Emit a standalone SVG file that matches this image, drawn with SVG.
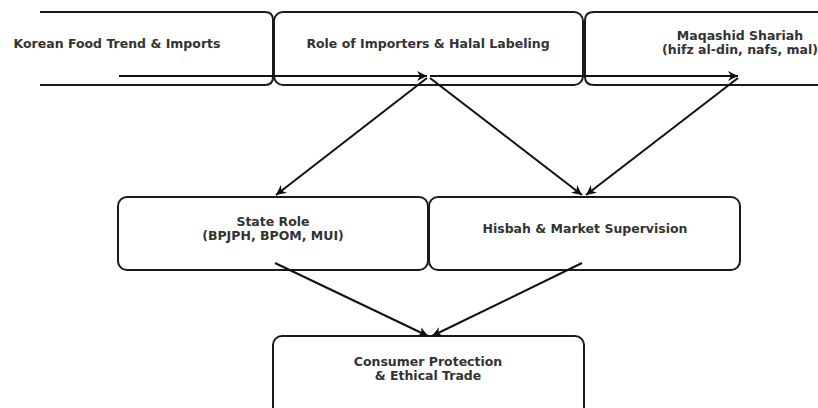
<svg xmlns="http://www.w3.org/2000/svg" width="818" height="408" viewBox="0 0 818 408">
<defs>
<marker id="ah" viewBox="0 0 10 10" refX="10" refY="5" markerWidth="10" markerHeight="10" markerUnits="userSpaceOnUse" orient="auto">
<path d="M0,0 L10,5 L0,10 L3,5 Z" fill="#111"/>
</marker>
<style>
.box{fill:#fff;stroke:#1a1a1a;stroke-width:2}
.t{font-family:"DejaVu Sans",sans-serif;font-weight:bold;font-size:12.5px;fill:#333;text-anchor:middle}
.c{stroke:#111;stroke-width:2;fill:none;marker-end:url(#ah)}
</style>
</defs>
<rect width="818" height="408" fill="#fff"/>
<g id="n1">
<path class="box" d="M40,12 H265 Q273,12 273,20 V77 Q273,85 265,85 H40"/>
<text class="t" x="117" y="48">Korean Food Trend &amp; Imports</text>
</g>
<g id="n2">
<rect class="box" x="274" y="12" width="309" height="73" rx="9"/>
<text class="t" x="428" y="48">Role of Importers &amp; Halal Labeling</text>
</g>
<g id="n3">
<path class="box" d="M818,12 H594 Q585,12 585,20 V77 Q585,85 594,85 H818"/>
<text class="t" x="740" y="40">Maqashid Shariah</text>
<text class="t" x="740" y="54">(hifz al-din, nafs, mal)</text>
</g>
<g id="n4">
<rect class="box" x="118" y="197" width="310" height="73" rx="9"/>
<text class="t" x="273" y="226">State Role</text>
<text class="t" x="273" y="240">(BPJPH, BPOM, MUI)</text>
</g>
<g id="n5">
<rect class="box" x="429" y="197" width="311" height="73" rx="9"/>
<text class="t" x="585" y="233">Hisbah &amp; Market Supervision</text>
</g>
<g id="n6">
<rect class="box" x="273" y="336" width="311" height="80" rx="9"/>
<text class="t" x="428" y="366">Consumer Protection</text>
<text class="t" x="428" y="380">&amp; Ethical Trade</text>
</g>
<g id="connectors">
<line class="c" x1="119" y1="76" x2="427" y2="76"/>
<line class="c" x1="430" y1="76" x2="738" y2="76"/>
<line class="c" x1="427" y1="78" x2="276" y2="195"/>
<line class="c" x1="430" y1="78" x2="582" y2="195"/>
<line class="c" x1="738" y1="78" x2="586" y2="195"/>
<line class="c" x1="275" y1="263" x2="428" y2="336"/>
<line class="c" x1="582" y1="263" x2="432" y2="336"/>
</g>
</svg>
